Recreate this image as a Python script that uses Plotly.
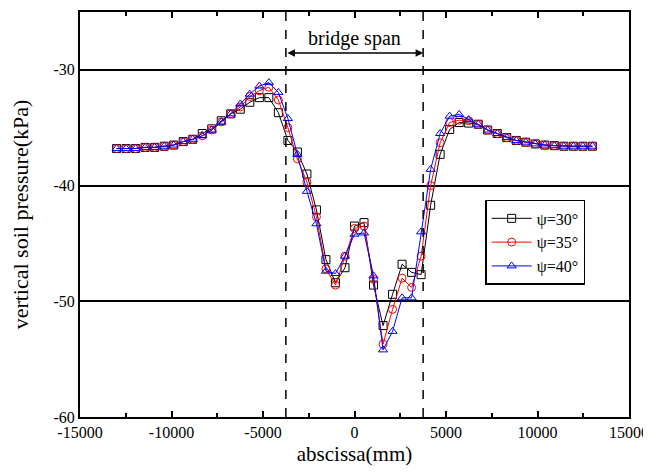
import plotly.graph_objects as go

# abscissa (mm)
x_mm = [-13000, -12480, -11960, -11440, -10920, -10400, -9880, -9360, -8840, -8320,
        -7800, -7280, -6760, -6240, -5720, -5200, -4680, -4160, -3640, -3120,
        -2600, -2080, -1560, -1040, -520, 0, 520, 1040, 1560, 2080,
        2600, 3120, 3640, 4160, 4680, 5200, 5720, 6240, 6760, 7280,
        7800, 8320, 8840, 9360, 9880, 10400, 10920, 11440, 11960, 12480, 13000]

psi30 = [-36.8, -36.8, -36.8, -36.7, -36.7, -36.6, -36.5, -36.2, -36.0, -35.5,
         -35.1, -34.4, -33.8, -33.4, -32.8, -32.4, -32.4, -33.7, -36.1, -37.1,
         -39.0, -42.1, -46.4, -48.4, -47.1, -43.5, -43.2, -48.6, -52.1, -49.4,
         -46.8, -47.5, -47.7, -41.7, -37.3, -35.15, -34.55, -34.6, -34.7, -35.2,
         -35.5, -35.85, -36.1, -36.25, -36.4, -36.5, -36.55, -36.6, -36.6, -36.6, -36.6]

psi35 = [-36.8, -36.8, -36.8, -36.7, -36.7, -36.6, -36.5, -36.2, -36.0, -35.7,
         -35.2, -34.5, -33.8, -33.2, -32.3, -31.8, -31.5, -32.6, -35.0, -37.7,
         -39.7, -42.7, -47.2, -48.6, -46.1, -43.7, -43.5, -48.1, -53.7, -50.7,
         -48.0, -48.8, -46.1, -40.0, -36.3, -34.55, -34.35, -34.4, -34.7, -35.2,
         -35.5, -35.85, -36.1, -36.25, -36.4, -36.5, -36.55, -36.6, -36.6, -36.6, -36.6]

psi40 = [-36.8, -36.8, -36.8, -36.7, -36.7, -36.6, -36.5, -36.2, -36.0, -35.7,
         -35.2, -34.5, -33.8, -32.95, -32.1, -31.4, -31.1, -31.95, -34.2, -37.3,
         -40.5, -43.3, -47.4, -47.6, -46.1, -44.2, -44.1, -47.8, -54.2, -52.6,
         -49.7, -49.7, -44.0, -38.6, -35.5, -34.0, -33.85, -34.3, -34.7, -35.2,
         -35.5, -35.85, -36.1, -36.25, -36.4, -36.5, -36.55, -36.6, -36.6, -36.6, -36.6]

series_names = ["ψ=30°", "ψ=35°", "ψ=40°"]
series_colors = ["#000000", "#ff0000", "#0000ff"]
series_symbols = ["square-open", "circle-open", "triangle-up-open"]

bridge_edges = [-3750, 3750]
x_ticks = [-15000, -10000, -5000, 0, 5000, 10000, 15000]
y_ticks = [-60, -50, -40, -30]

FONT = "Liberation Serif, Times New Roman, serif"

fig = go.Figure()
for vals, name, col, sym in zip([psi30, psi35, psi40], series_names, series_colors, series_symbols):
    fig.add_trace(go.Scatter(
        x=x_mm, y=vals, mode="lines+markers", name=name,
        line=dict(color=col, width=1),
        marker=dict(symbol=sym, size=8, color=col, line=dict(width=1, color=col)),
    ))

for xe in bridge_edges:
    fig.add_shape(type="line", xref="x", yref="paper", x0=xe, x1=xe, y0=0, y1=1,
                  line=dict(color="black", width=1.5, dash="dash"))

fig.add_annotation(x=bridge_edges[1], y=-28.55, ax=bridge_edges[0], ay=-28.55,
                   xref="x", yref="y", axref="x", ayref="y", text="",
                   showarrow=True, arrowhead=2, arrowside="end+start",
                   arrowsize=1, arrowwidth=1.5, arrowcolor="black")
fig.add_annotation(x=0, y=-27.3, xref="x", yref="y", text="bridge span",
                   showarrow=False, font=dict(family=FONT, size=20, color="black"))

fig.update_layout(
    width=643, height=466,
    margin=dict(l=72, r=22, t=4, b=57, autoexpand=False),
    paper_bgcolor="white", plot_bgcolor="white",
    font=dict(family=FONT, size=16, color="black"),
    showlegend=True,
    legend=dict(x=0.738, y=0.536, xanchor="left", yanchor="top",
                bordercolor="black", borderwidth=1.5, bgcolor="white",
                font=dict(family=FONT, size=16, color="black"),
                tracegroupgap=0, itemwidth=40),
)
fig.update_xaxes(
    range=[-15000, 15000], tickvals=x_ticks, ticktext=[str(v) for v in x_ticks],
    ticks="inside", ticklen=6, tickwidth=1.5, tickcolor="black",
    minor=dict(ticks="inside", ticklen=4, tickwidth=1.5, tickcolor="black", dtick=2500, tick0=0),
    showline=True, linecolor="black", linewidth=2, mirror="ticks",
    showgrid=False, zeroline=False, automargin=False,
    title=dict(text="abscissa(mm)", font=dict(family=FONT, size=21), standoff=6),
    tickfont=dict(family=FONT, size=16),
)
fig.update_yaxes(
    range=[-60, -25], tickvals=y_ticks, ticktext=[str(v) for v in y_ticks],
    ticks="", showline=True, linecolor="black", linewidth=2, mirror=True,
    showgrid=True, gridcolor="black", gridwidth=1.5, zeroline=False, automargin=False,
    title=dict(text="vertical soil pressure(kPa)", font=dict(family=FONT, size=22), standoff=20),
    tickfont=dict(family=FONT, size=16),
)

fig.write_html("out.html")
